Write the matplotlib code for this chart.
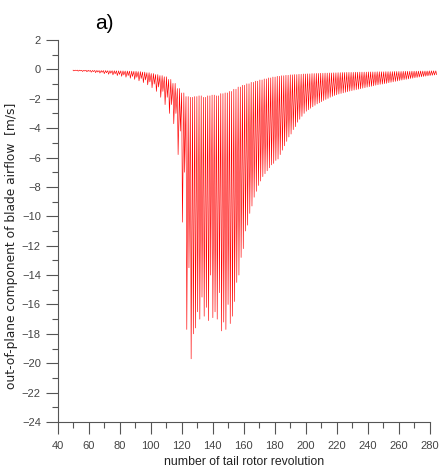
import numpy as np
import matplotlib
matplotlib.use("Agg")
import matplotlib.pyplot as plt
from matplotlib.ticker import MultipleLocator

plt.rcParams["font.family"] = ["Liberation Sans", "DejaVu Sans"]

# revolution number of each pair of blade spikes
rev = np.arange(50, 283, 2.8)

# upper envelope (maximum of each spike) [m/s]
peak_hi = [-0.05, -0.05, -0.06, -0.06, -0.07, -0.07, -0.08, -0.08, -0.09, -0.09,
           -0.10, -0.10, -0.11, -0.12, -0.13, -0.15, -0.18, -0.22, -0.28, -0.35,
           -0.42, -0.50, -0.68, -0.95, -1.30, -1.60, -1.85, -1.90, -1.85, -1.80,
           -1.90, -1.80, -1.75, -1.80, -1.65, -1.60, -1.50, -1.35, -1.20, -1.08,
           -0.98, -0.88, -0.80, -0.72, -0.65, -0.58, -0.52, -0.47, -0.43, -0.40,
           -0.37, -0.35, -0.33, -0.31, -0.30, -0.28, -0.27, -0.26, -0.25, -0.24,
           -0.23, -0.22, -0.21, -0.20, -0.20, -0.19, -0.18, -0.18, -0.17, -0.17,
           -0.16, -0.16, -0.15, -0.15, -0.14, -0.14, -0.13, -0.13, -0.12, -0.12,
           -0.11, -0.11, -0.10, -0.10]

# deep spike minimum [m/s]
peak_lo = [-0.10, -0.12, -0.14, -0.16, -0.19, -0.22, -0.25, -0.29, -0.33, -0.37,
           -0.42, -0.47, -0.53, -0.60, -0.68, -0.78, -0.90, -1.05, -1.25, -1.50,
           -1.90, -2.40, -3.00, -3.70, -5.80, -10.4, -17.7, -19.7, -17.6, -17.0,
           -16.8, -17.1, -16.9, -17.0, -17.8, -17.7, -17.3, -15.8, -14.0, -12.2,
           -10.6, -9.30, -8.30, -7.60, -7.10, -6.70, -6.40, -6.10, -5.50, -4.90,
           -4.40, -3.90, -3.40, -3.00, -2.75, -2.55, -2.35, -2.20, -2.05, -1.90,
           -1.78, -1.68, -1.60, -1.52, -1.45, -1.38, -1.32, -1.25, -1.18, -1.12,
           -1.05, -1.00, -0.95, -0.88, -0.82, -0.76, -0.70, -0.65, -0.60, -0.55,
           -0.50, -0.46, -0.42, -0.38]

# second spike minimum in between [m/s]
mid_lo = [-0.08, -0.10, -0.11, -0.13, -0.15, -0.18, -0.20, -0.23, -0.26, -0.30,
          -0.34, -0.38, -0.42, -0.48, -0.54, -0.62, -0.72, -0.85, -1.00, -1.20,
          -1.50, -1.90, -2.40, -3.00, -4.20, -7.00, -13.5, -18.0, -16.5, -15.5,
          -16.2, -14.0, -16.5, -15.2, -17.2, -16.0, -16.8, -14.5, -12.8, -11.0,
          -9.80, -8.70, -7.90, -7.30, -6.90, -6.50, -6.20, -5.80, -5.20, -4.60,
          -4.10, -3.60, -3.20, -2.85, -2.65, -2.45, -2.28, -2.12, -1.98, -1.84,
          -1.73, -1.64, -1.56, -1.48, -1.41, -1.35, -1.28, -1.21, -1.15, -1.08,
          -1.02, -0.97, -0.91, -0.85, -0.79, -0.73, -0.68, -0.62, -0.57, -0.52,
          -0.48, -0.44, -0.40, -0.36]

# sawtooth trace: max -> deep min -> max -> second min -> next max
xs, ys = [], []
for r, h, l, m in zip(rev, peak_hi, peak_lo, mid_lo):
    xs += [r, r + 0.5, r + 1.4, r + 1.9]
    ys += [h, l, h, m]

fig = plt.figure(figsize=(4.46, 4.68), dpi=100)
ax = fig.add_axes([0.129, 0.0983, 0.835, 0.8162])

ax.plot(xs, ys, color="#ff0000", lw=0.45, clip_on=False)

ax.set_xlim(40, 280)
ax.set_ylim(-24, 2)
ax.xaxis.set_major_locator(MultipleLocator(20))
ax.xaxis.set_minor_locator(MultipleLocator(10))
ax.yaxis.set_major_locator(MultipleLocator(2))
ax.yaxis.set_minor_locator(MultipleLocator(1))

for s in ["top", "right"]:
    ax.spines[s].set_visible(False)
for s in ["left", "bottom"]:
    ax.spines[s].set_color("#555555")
    ax.spines[s].set_linewidth(0.8)

ax.tick_params(which="major", length=8.5, width=0.8, color="#555555",
               labelsize=8, labelcolor="#444444")
ax.tick_params(axis="x", which="major", pad=5)
ax.tick_params(which="minor", length=4, width=0.8, color="#555555")

ax.set_xlabel("number of tail rotor revolution", fontsize=8.8, color="#222222", labelpad=4)
ax.set_ylabel("out-of-plane component of blade airflow  [m/s]", fontsize=8.8,
              color="#222222", family="DejaVu Sans")
ax.yaxis.set_label_coords(-0.105, 0.46)

fig.text(0.213, 0.949, "a)", fontsize=15, ha="left", va="center")

fig.savefig("out.png", dpi=100)
